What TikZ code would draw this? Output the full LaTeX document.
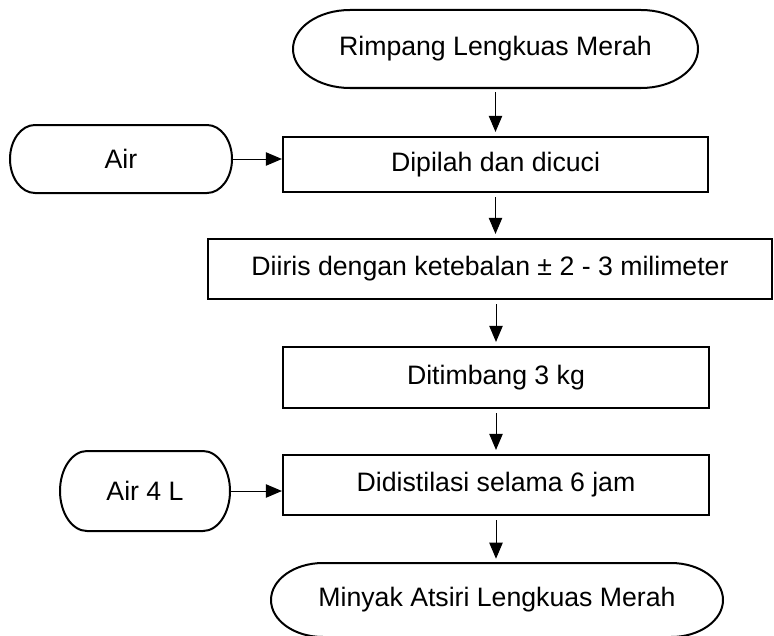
\documentclass[tikz,border=0pt]{standalone}
\usepackage{fontspec}
\setmainfont{Liberation Sans}
\usetikzlibrary{arrows.meta}

\begin{document}
\begin{tikzpicture}[x=0.75pt,y=0.75pt,yscale=-1,xscale=1,
	proses/.style={draw,line width=1.6pt,inner sep=0pt,font=\fontsize{20}{24}\selectfont},
	terminal/.style={inner sep=0pt,font=\fontsize{20}{24}\selectfont},
	panah/.style={line width=0.75pt,-{Triangle[length=12pt,width=10pt]}},
	turun/.style={panah,shorten <=3pt,shorten >=3pt}]
	\useasboundingbox (0,0) rectangle (774,635);
	
	%Shape: Terminal [id:rimpang]
	\draw [line width=1.5pt] (350,10) -- (641,10) .. controls (672.5,10) and (698,27.5) .. (698,49) .. controls (698,70.5) and (672.5,88) .. (641,88) -- (350,88) .. controls (318.5,88) and (293,70.5) .. (293,49) .. controls (293,27.5) and (318.5,10) .. (350,10) -- cycle ;
	%Shape: Terminal [id:air]
	\draw [line width=1.5pt] (35,125) -- (207,125) .. controls (220.8,125) and (232,140.2) .. (232,159) .. controls (232,177.8) and (220.8,193) .. (207,193) -- (35,193) .. controls (21.2,193) and (10,177.8) .. (10,159) .. controls (10,140.2) and (21.2,125) .. (35,125) -- cycle ;
	%Shape: Terminal [id:airempat]
	\draw [line width=1.5pt] (87,451) -- (203,451) .. controls (217.9,451) and (230,468.9) .. (230,491) .. controls (230,513.1) and (217.9,531) .. (203,531) -- (87,531) .. controls (72.1,531) and (60,513.1) .. (60,491) .. controls (60,468.9) and (72.1,451) .. (87,451) -- cycle ;
	%Shape: Terminal [id:minyak]
	\draw [line width=1.5pt] (323,563) -- (671,563) .. controls (699.7,563) and (723,579.6) .. (723,600) .. controls (723,620.4) and (699.7,637) .. (671,637) -- (323,637) .. controls (294.3,637) and (271,620.4) .. (271,600) .. controls (271,579.6) and (294.3,563) .. (323,563) -- cycle ;
	
	% Text Node
	\node [terminal,minimum width=303.75pt,minimum height=58.5pt] (rimpang) at (495.5,49) {Rimpang Lengkuas Merah};
	% Text Node
	\node [terminal,minimum width=166.5pt,minimum height=51pt] (air) at (121,159) {Air};
	% Text Node
	\node [terminal,minimum width=127.5pt,minimum height=60pt] (airempat) at (145,491) {Air 4 L};
	% Text Node
	\node [terminal,minimum width=339pt,minimum height=55.5pt] (minyak) at (497,600) {Minyak Atsiri Lengkuas Merah};
	
	%Shape: Rectangle [id:dipilah]
	\node [proses,minimum width=318.75pt,minimum height=41.25pt] (dipilah) at (495.5,164.5) {Dipilah dan dicuci};
	%Shape: Rectangle [id:diiris]
	\node [proses,minimum width=423pt,minimum height=45pt] (diiris) at (490,269) {Diiris dengan ketebalan ± 2 - 3 milimeter};
	%Shape: Rectangle [id:ditimbang]
	\node [proses,minimum width=319.5pt,minimum height=45.75pt] (ditimbang) at (496,377.5) {Ditimbang 3 kg};
	%Shape: Rectangle [id:didistilasi]
	\node [proses,minimum width=319.5pt,minimum height=45pt] (didistilasi) at (496,485) {Didistilasi selama 6 jam};
	
	%Straight Lines
	\draw [turun] (rimpang.south) -- (dipilah.north) ;
	\draw [turun] (dipilah.south) -- (dipilah.south |- diiris.north) ;
	\draw [turun] (ditimbang.north |- diiris.south) -- (ditimbang.north) ;
	\draw [turun] (ditimbang.south) -- (didistilasi.north) ;
	\draw [turun] (didistilasi.south) -- (didistilasi.south |- minyak.north) ;
	\draw [panah] (air.east) -- (air.east -| dipilah.west) ;
	\draw [panah] (airempat.east) -- (airempat.east -| didistilasi.west) ;
	
\end{tikzpicture}
\end{document}
